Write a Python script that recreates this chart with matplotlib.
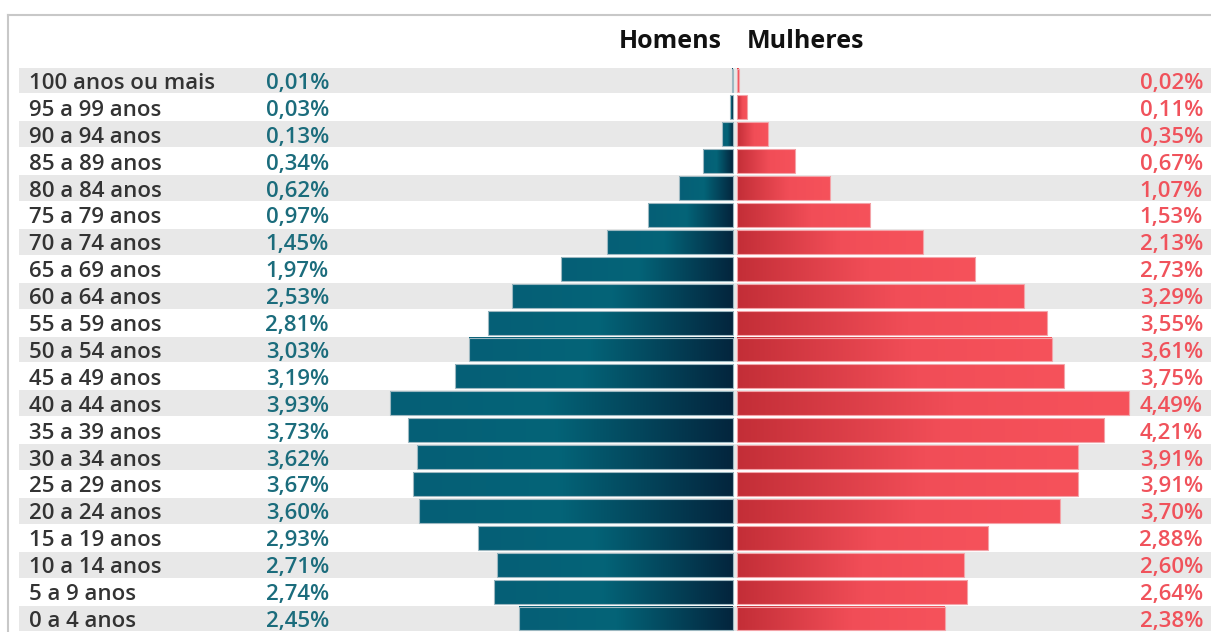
import numpy as np
import matplotlib
matplotlib.use('Agg')
import matplotlib.pyplot as plt
from matplotlib.colors import LinearSegmentedColormap
from matplotlib.lines import Line2D

plt.rcParams['font.family'] = ['Open Sans', 'DejaVu Sans']

faixas = ['100 anos ou mais', '95 a 99 anos', '90 a 94 anos', '85 a 89 anos',
          '80 a 84 anos', '75 a 79 anos', '70 a 74 anos', '65 a 69 anos',
          '60 a 64 anos', '55 a 59 anos', '50 a 54 anos', '45 a 49 anos',
          '40 a 44 anos', '35 a 39 anos', '30 a 34 anos', '25 a 29 anos',
          '20 a 24 anos', '15 a 19 anos', '10 a 14 anos', '5 a 9 anos',
          '0 a 4 anos']
homens = [0.01, 0.03, 0.13, 0.34, 0.62, 0.97, 1.45, 1.97, 2.53, 2.81, 3.03,
          3.19, 3.93, 3.73, 3.62, 3.67, 3.60, 2.93, 2.71, 2.74, 2.45]
mulheres = [0.02, 0.11, 0.35, 0.67, 1.07, 1.53, 2.13, 2.73, 3.29, 3.55, 3.61,
            3.75, 4.49, 4.21, 3.91, 3.91, 3.70, 2.88, 2.60, 2.64, 2.38]

W, H = 1211, 632
fig = plt.figure(figsize=(W / 100, H / 100), dpi=100)
ax = fig.add_axes([0, 0, 1, 1])

px = 87.2        # pixels per percent point
cx = 735         # centre line (px)
pitch = 26.9
y0 = 80.5
ax.axis('off')

cm_h = LinearSegmentedColormap.from_list(
    'h', [(0, '#065f76'), (0.45, '#046478'), (1, '#03253d')])
cm_m = LinearSegmentedColormap.from_list(
    'm', [(0, '#c32e37'), (0.55, '#f14d57'), (1, '#f6525b')])

gap = 2 / px
bh = 0.89
grad = np.linspace(0, 1, 256).reshape(1, -1)
tr = ax.get_yaxis_transform()
fs = 16
base = 8.5 / pitch   # baseline offset below row centre

for i in range(len(faixas)):
    if i % 2 == 0:
        ax.axhspan(i - 0.48, i + 0.48, xmin=19 / W, xmax=1, color='#e8e8e8', lw=0, zorder=0)

    # homens (lado esquerdo)
    l, r = -gap - homens[i], -gap
    ax.imshow(grad, cmap=cm_h, aspect='auto', interpolation='bilinear',
              extent=(l, r, i + bh / 2, i - bh / 2), zorder=2)
    ax.barh(i, homens[i], left=l, height=bh, color='none',
            edgecolor='#9db8c1', lw=0.8, zorder=3)
    # mulheres (lado direito)
    l, r = gap, gap + mulheres[i]
    ax.imshow(grad, cmap=cm_m, aspect='auto', interpolation='bilinear',
              extent=(l, r, i + bh / 2, i - bh / 2), zorder=2)
    ax.barh(i, mulheres[i], left=l, height=bh, color='none',
            edgecolor='#f4a3a8', lw=0.8, zorder=3)

    ax.text(29 / W, i + base, faixas[i], transform=tr, ha='left', va='baseline',
            fontsize=fs, color='#333333', fontweight='semibold')
    ax.text(329 / W, i + base, f'{homens[i]:.2f}%'.replace('.', ','), transform=tr,
            ha='right', va='baseline', fontsize=fs, color='#1b6c7c', fontweight='semibold')
    ax.text(1203 / W, i + base, f'{mulheres[i]:.2f}%'.replace('.', ','), transform=tr,
            ha='right', va='baseline', fontsize=fs, color='#f0525b', fontweight='semibold')

ax.set_xlim(-cx / px, (W - cx) / px)
ax.set_ylim((H - y0) / pitch, -y0 / pitch)

fig.text(722 / W, 1 - 48 / H, 'Homens', ha='right', va='baseline',
         fontsize=18, fontweight='bold', color='#111111')
fig.text(747 / W, 1 - 48 / H, 'Mulheres', ha='left', va='baseline',
         fontsize=18, fontweight='bold', color='#111111')

# moldura
fig.add_artist(Line2D([8 / W, 1], [1 - 15 / H, 1 - 15 / H], color='#c8c8c8', lw=1.5))
fig.add_artist(Line2D([8 / W, 8 / W], [0, 1 - 15 / H], color='#c8c8c8', lw=1.5))

fig.savefig('out.png', dpi=100)
